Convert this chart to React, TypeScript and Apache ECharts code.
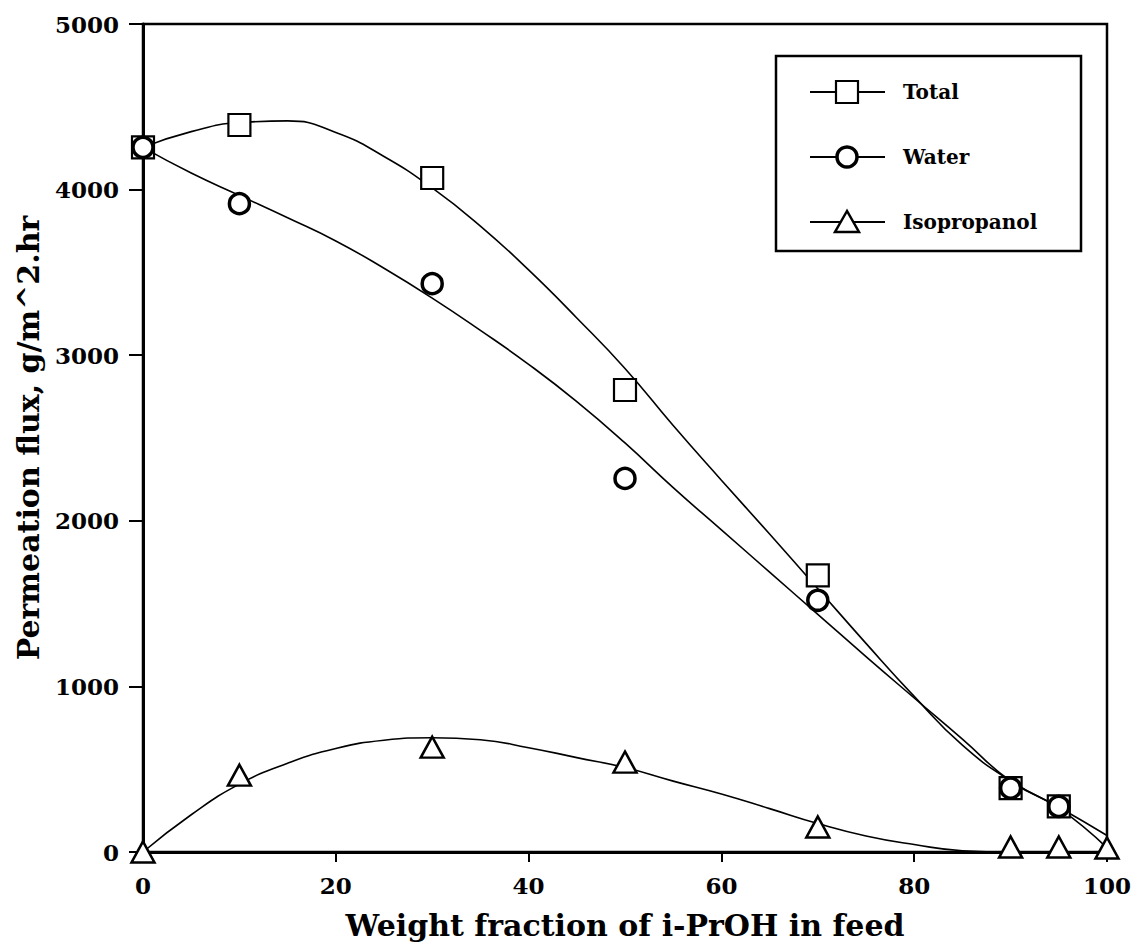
import React, { useEffect, useRef } from "react";
import * as echarts from "echarts";

// Measured points (x = weight fraction of i-PrOH in feed, y = permeation flux)
const feedFractions = [0, 10, 30, 50, 70, 90, 95];
const totalFlux = [4255, 4390, 4070, 2790, 1670, 386, 275];
const waterFlux = [4255, 3915, 3432, 2256, 1520, 386, 275];
const isoFractions = [0, 10, 30, 50, 70, 90, 95, 100];
const isoFlux = [0, 464, 633, 543, 151, 30, 30, 24];

// Fitted curves
const curveX = [0, 5, 10, 15, 20, 25, 30, 35, 40, 45, 50, 55, 60, 65, 70, 75, 80, 85, 90, 95, 100];
const totalCurveY = [4255, 4350, 4405, 4415, 4345, 4200, 4010, 3780, 3515, 3225, 2920, 2575, 2245, 1920, 1590, 1260, 940, 645, 430, 270, 100];
const waterCurveY = [4255, 4100, 3965, 3830, 3690, 3525, 3345, 3150, 2945, 2720, 2470, 2200, 1945, 1690, 1435, 1180, 930, 682, 428, 265, 25];
const isoCurveY = [0, 225, 410, 536, 625, 675, 690, 678, 630, 570, 510, 428, 350, 262, 172, 97, 45, 8, 0, 0, 0];

const xTicks = [0, 20, 40, 60, 80, 100];
const yTicks = [0, 1000, 2000, 3000, 4000, 5000];

const legendNames = ["Total", "Water", "Isopropanol"];

const FONT = "DejaVu Serif";

const zip = (xs: number[], ys: number[]) => xs.map((x, i) => [x, ys[i]]);

export default function App() {
  const ref = useRef<HTMLDivElement>(null);
  useEffect(() => {
    if (!ref.current) return;
    const chart = echarts.init(ref.current, null, { renderer: "svg" });
    const curveStyle = { color: "#000", width: 1.6 };
    const markerItem = (bw: number) => ({ color: "#fff", borderColor: "#000", borderWidth: bw, opacity: 1 });
    const lx1 = 810, lx2 = 885, lmx = 847;
    const rows = [92, 157, 222];
    chart.setOption({
      animation: false,
      backgroundColor: "#fff",
      grid: { left: 143, top: 24, width: 964, height: 828, show: true, borderColor: "#000", borderWidth: 2.5, backgroundColor: "transparent" },
      xAxis: {
        type: "value",
        min: xTicks[0],
        max: xTicks[xTicks.length - 1],
        interval: 20,
        name: "Weight fraction of i-PrOH in feed",
        nameLocation: "middle",
        nameGap: 58,
        nameTextStyle: { fontFamily: FONT, fontSize: 30, fontWeight: "bold", color: "#000" },
        axisLine: { lineStyle: { color: "#000", width: 3 } },
        axisTick: { inside: false, length: 10, lineStyle: { color: "#000", width: 2 } },
        axisLabel: { fontFamily: FONT, fontSize: 23, fontWeight: "bold", color: "#000", margin: 22, formatter: (v: number) => String(v) },
        splitLine: { show: false },
      },
      yAxis: {
        type: "value",
        min: yTicks[0],
        max: yTicks[yTicks.length - 1],
        interval: 1000,
        name: "Permeation flux, g/m^2.hr",
        nameLocation: "middle",
        nameGap: 100,
        nameRotate: 90,
        nameTextStyle: { fontFamily: FONT, fontSize: 30, fontWeight: "bold", color: "#000" },
        axisLine: { lineStyle: { color: "#000", width: 3 } },
        axisTick: { inside: false, length: 14, lineStyle: { color: "#000", width: 2 } },
        axisLabel: { fontFamily: FONT, fontSize: 23, fontWeight: "bold", color: "#000", margin: 24, formatter: (v: number) => String(v) },
        splitLine: { show: false },
      },
      series: [
        { name: "Total fit", type: "line", data: zip(curveX, totalCurveY), smooth: 0.5, symbol: "none", lineStyle: curveStyle, z: 2 },
        { name: "Water fit", type: "line", data: zip(curveX, waterCurveY), smooth: 0.5, symbol: "none", lineStyle: curveStyle, z: 2 },
        { name: "Isopropanol fit", type: "line", data: zip(curveX, isoCurveY), smooth: 0.5, symbol: "none", lineStyle: curveStyle, z: 2 },
        { name: legendNames[0], type: "scatter", data: zip(feedFractions, totalFlux), symbol: "rect", symbolSize: 22, itemStyle: markerItem(2.2), z: 3 },
        { name: legendNames[1], type: "scatter", data: zip(feedFractions, waterFlux), symbol: "circle", symbolSize: 20, itemStyle: markerItem(3.5), z: 4 },
        { name: legendNames[2], type: "scatter", data: zip(isoFractions, isoFlux), symbol: "triangle", symbolSize: [23, 21], itemStyle: markerItem(2.5), z: 5 },
      ],
      graphic: [
        { type: "rect", shape: { x: 776, y: 56, width: 305, height: 195 }, style: { fill: "#fff", stroke: "#000", lineWidth: 2.5 }, z: 10 },
        ...rows.map((y) => ({ type: "line", shape: { x1: lx1, y1: y, x2: lx2, y2: y }, style: { stroke: "#000", lineWidth: 2 }, z: 11 })),
        { type: "rect", shape: { x: lmx - 11, y: rows[0] - 11, width: 22, height: 22 }, style: { fill: "#fff", stroke: "#000", lineWidth: 2.2 }, z: 12 },
        { type: "circle", shape: { cx: lmx, cy: rows[1], r: 10 }, style: { fill: "#fff", stroke: "#000", lineWidth: 3.5 }, z: 12 },
        { type: "polygon", shape: { points: [[lmx, rows[2] - 11], [lmx - 12, rows[2] + 10], [lmx + 12, rows[2] + 10]] }, style: { fill: "#fff", stroke: "#000", lineWidth: 2.5 }, z: 12 },
        ...legendNames.map((n, i) => ({
          type: "text", x: 903, y: rows[i], style: { text: n, fontFamily: FONT, fontSize: 20, fontWeight: "bold", fill: "#000", verticalAlign: "middle" }, z: 12,
        })),
      ],
    });
    return () => chart.dispose();
  }, []);
  return <div ref={ref} style={{ position: "fixed", left: 0, top: 0, width: 1137, height: 950 }} />;
}
